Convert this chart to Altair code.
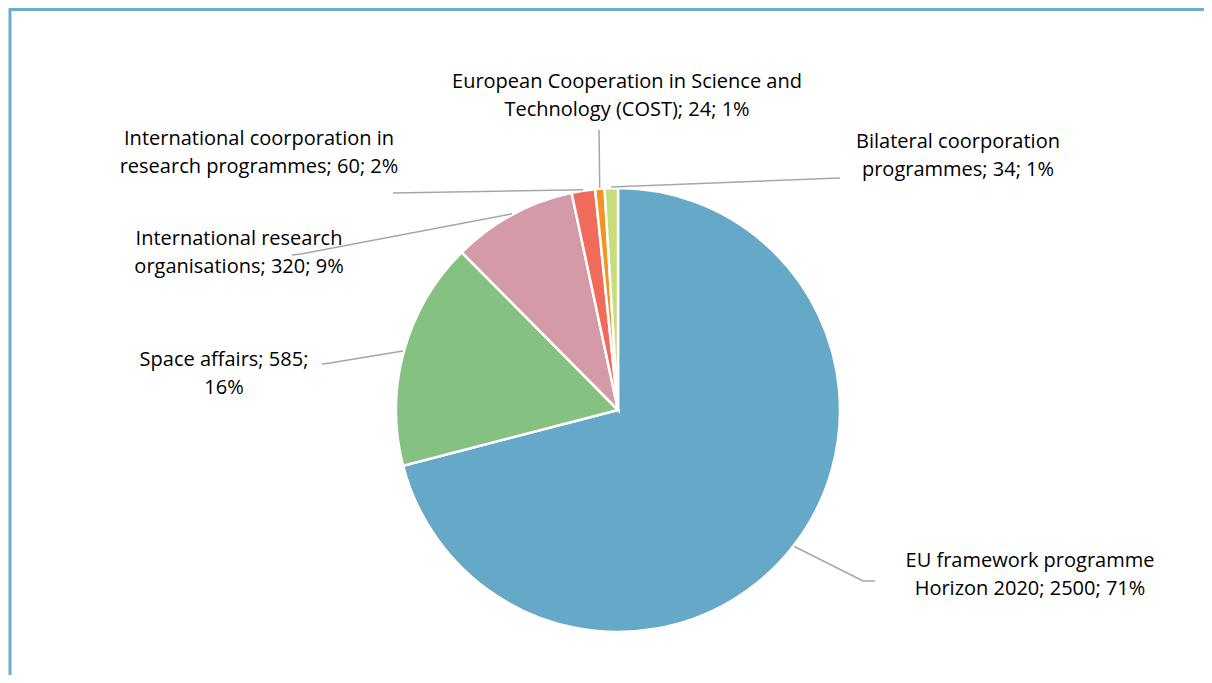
import math
import altair as alt
import pandas as pd

# ---- data ----
categories = [
    "EU framework programme Horizon 2020",
    "Space affairs",
    "International research organisations",
    "International coorporation in research programmes",
    "European Cooperation in Science and Technology (COST)",
    "Bilateral coorporation programmes",
]
values = [2500, 585, 320, 60, 24, 34]
label_lines = [
    ["EU framework programme", "Horizon 2020; 2500; 71%"],
    ["Space affairs; 585;", "16%"],
    ["International research", "organisations; 320; 9%"],
    ["International coorporation in", "research programmes; 60; 2%"],
    ["European Cooperation in Science and", "Technology (COST); 24; 1%"],
    ["Bilateral coorporation", "programmes; 34; 1%"],
]
colors = ["#65A8C8", "#85C281", "#D49AA8", "#F16B5B", "#F39324", "#C9DC7A"]

# ---- layout (screen px, page margin 8) ----
M = 8
CX, CY, R = 618 - M, 410 - M, 222
label_pos = [(1030, 567), (224, 366), (239, 245), (259, 145), (627, 88), (958, 148)]
leader_pts = [
    [(863, 581), (875, 581)],
    [(330, 363), (322, 364)],
    [(301, 254), (292, 255)],
    [(393, 193)],
    [(599, 130)],
    [(840, 178)],
]

total = sum(values)
df = pd.DataFrame({"cat": categories, "value": values, "ord": list(range(len(values)))})

# leader lines: start at slice mid-angle on the rim
rows = []
cum = 0
for i, v in enumerate(values):
    mid = (cum + v / 2) / total * 2 * math.pi
    cum += v
    sx = CX + (R + 1) * math.sin(mid)
    sy = CY - (R + 1) * math.cos(mid)
    pts = [(sx, sy)] + [(x - M, y - M) for x, y in leader_pts[i]]
    for j, (x, y) in enumerate(pts):
        rows.append({"cat": categories[i], "seq": j, "px": x, "py": y})
lines_df = pd.DataFrame(rows)

lab_df = pd.DataFrame({
    "cat": categories,
    "text": label_lines,
    "lx": [p[0] - M for p in label_pos],
    "ly": [p[1] - M for p in label_pos],
})

W, H = 1196, 667

frame = alt.Chart(pd.DataFrame({"a": [0]})).mark_rect(
    fill=None, stroke="#6AADD0", strokeWidth=3
).encode(
    x=alt.value(2), y=alt.value(1.5), x2=alt.value(1400), y2=alt.value(1000)
)

pie = alt.Chart(df).mark_arc(radius=R, stroke="white", strokeWidth=2.5).encode(
    theta=alt.Theta("value:Q", stack=True),
    order=alt.Order("ord:Q"),
    color=alt.Color("cat:N", scale=alt.Scale(domain=categories, range=colors), legend=None),
    x=alt.value(CX),
    y=alt.value(CY),
)

leaders = alt.Chart(lines_df).mark_line(color="#A6A6A6", strokeWidth=1.5).encode(
    x=alt.X("px:Q", scale=None),
    y=alt.Y("py:Q", scale=None),
    detail="cat:N",
    order="seq:Q",
)

labels = alt.Chart(lab_df).mark_text(
    font="Open Sans", fontSize=20, color="#000000", align="center",
    baseline="alphabetic", lineHeight=28,
).encode(
    x=alt.X("lx:Q", scale=None),
    y=alt.Y("ly:Q", scale=None),
    text="text",
)

chart = alt.layer(frame, pie, leaders, labels).properties(
    width=W, height=H, autosize=alt.AutoSizeParams(type="none"), padding=0
).configure_view(stroke=None)

chart.save("out.html", embed_options={"renderer": "svg", "actions": False})
